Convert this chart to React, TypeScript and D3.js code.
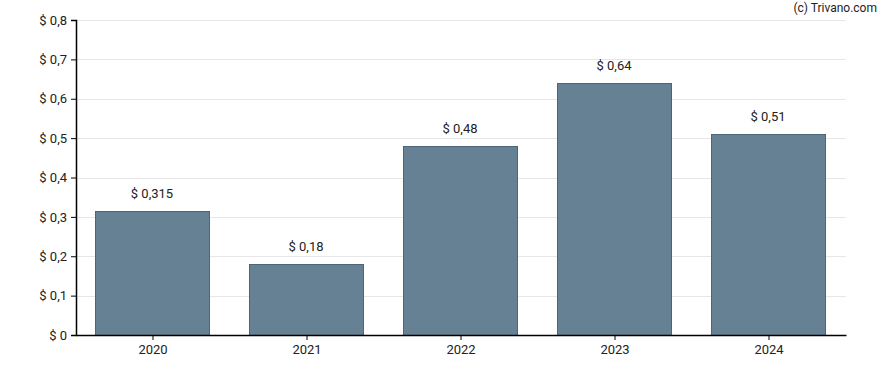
import React from "react";
import * as d3 from "d3";

const years = ["2020", "2021", "2022", "2023", "2024"];
const dividends = [0.315, 0.18, 0.48, 0.64, 0.51];
const valueLabels = ["$ 0,315", "$ 0,18", "$ 0,48", "$ 0,64", "$ 0,51"];
const yTicks = [0, 0.1, 0.2, 0.3, 0.4, 0.5, 0.6, 0.7, 0.8];

export default function App() {
  const ref = React.useRef<SVGSVGElement>(null);
  const width = 888;
  const height = 370;
  const margin = { top: 20, right: 42, bottom: 35, left: 76 };

  React.useEffect(() => {
    const svg = d3.select(ref.current);
    svg.selectAll("*").remove();

    const x = d3
      .scaleBand()
      .domain(years)
      .range([margin.left, width - margin.right])
      .paddingInner(0.26)
      .paddingOuter(0.13);

    const y = d3
      .scaleLinear()
      .domain([0, 0.8])
      .range([height - margin.bottom, margin.top]);

    const font = "Roboto, sans-serif";

    // grid
    svg
      .append("g")
      .selectAll("line")
      .data(yTicks.slice(1))
      .join("line")
      .attr("x1", margin.left)
      .attr("x2", width - margin.right)
      .attr("y1", (d) => Math.round(y(d)) + 0.5)
      .attr("y2", (d) => Math.round(y(d)) + 0.5)
      .attr("stroke", "#e6e6e6")
      .attr("stroke-width", 1);

    // bars
    svg
      .append("g")
      .selectAll("rect")
      .data(dividends)
      .join("rect")
      .attr("x", (d, i) => Math.round(x(years[i])!) - 0.5)
      .attr("y", (d) => Math.round(y(d)) + 0.5)
      .attr("width", Math.round(x.bandwidth()))
      .attr("height", (d) => Math.round(y(0)) - Math.round(y(d)))
      .attr("fill", "#668193")
      .attr("stroke", "#4b6579")
      .attr("stroke-width", 1);

    // value labels
    svg
      .append("g")
      .selectAll("text")
      .data(dividends)
      .join("text")
      .attr("x", (d, i) => x(years[i])! + x.bandwidth() / 2 - 1)
      .attr("y", (d) => y(d) - 13)
      .attr("text-anchor", "middle")
      .attr("font-family", font)
      .attr("font-size", 13)
      .attr("fill", "#222")
      .text((d, i) => valueLabels[i]);

    // y axis
    const yAxis = d3
      .axisLeft(y)
      .tickValues(yTicks)
      .tickSize(5)
      .tickPadding(4)
      .tickFormat((d) => "$ " + String(d).replace(".", ","));
    const gy = svg
      .append("g")
      .attr("transform", `translate(${margin.left},0)`)
      .call(yAxis);
    gy.select(".domain").attr("stroke", "#000").attr("stroke-width", 1.5);
    gy.selectAll(".tick line").attr("stroke", "#000");
    gy.selectAll("text")
      .attr("font-family", font)
      .attr("font-size", 13)
      .attr("fill", "#222");

    // x axis
    const xAxis = d3.axisBottom(x).tickSize(5).tickPadding(5).tickSizeOuter(0);
    const gx = svg
      .append("g")
      .attr("transform", `translate(0,${height - margin.bottom})`)
      .call(xAxis);
    gx.select(".domain").attr("stroke", "#000").attr("stroke-width", 1.5);
    gx.selectAll(".tick line").attr("stroke", "#000");
    gx.selectAll("text")
      .attr("font-family", font)
      .attr("font-size", 13)
      .attr("fill", "#222");

    svg
      .append("text")
      .attr("x", width - 11)
      .attr("y", 12)
      .attr("text-anchor", "end")
      .attr("font-family", font)
      .attr("font-size", 12)
      .attr("fill", "#222")
      .text("(c) Trivano.com");
  }, []);

  return (
    <svg
      ref={ref}
      width={width}
      height={height}
      style={{ position: "absolute", left: 0, top: 0, background: "#fff" }}
    />
  );
}
